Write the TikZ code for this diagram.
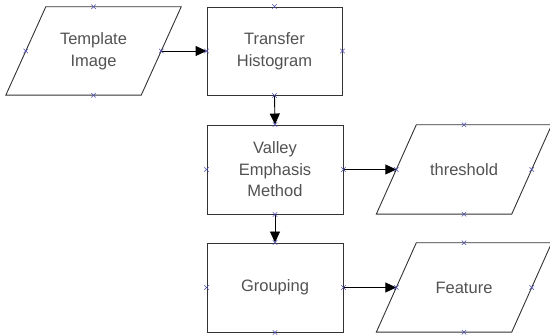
\documentclass[tikz,border=0pt]{standalone}
\usepackage{fontspec}
\setmainfont{Liberation Sans}
\usetikzlibrary{arrows.meta}
\begin{document}
\begin{tikzpicture}[x=1pt,y=-1pt,
  box/.style={draw=black!80, line width=0.9pt, minimum width=135pt, minimum height=88pt, inner sep=0pt, align=center, font=\fontsize{16.5}{21.5}\selectfont, text=black!68},
  para/.style={minimum width=135pt, minimum height=88pt, inner sep=0pt, align=center, font=\fontsize{16.5}{21.5}\selectfont, text=black!68},
  pline/.style={draw=black!80, line width=0.9pt},
  conn/.style={draw=black, line width=0.9pt, -{Triangle[length=11pt,width=10pt]}},
  mk/.style={draw=blue!55!black!70, line width=0.6pt}
]
\useasboundingbox (0,0) rectangle (550,336);
\fill[white] (0,0) rectangle (550,336);

\node[para] (tmpl) at (93.5,51) {Template\\Image};
\node[box] (trans) at (274.5,51) {Transfer\\Histogram};
\node[box, minimum width=136pt, minimum height=89pt] (valley) at (275,169.5) {Valley\\Emphasis\\Method};
\node[para, minimum height=89pt] (thr) at (464,169.5) {threshold};
\node[box, minimum width=136pt, minimum height=89pt] (group) at (275,287.5) {Grouping};
\node[para, minimum height=89pt] (feat) at (464,287.5) {Feature};

\foreach \n in {tmpl,thr,feat}{
  \draw[pline] ([xshift=20pt]\n.north west) -- ([xshift=20pt]\n.north east)
    -- ([xshift=-20pt]\n.south east) -- ([xshift=-20pt]\n.south west) -- cycle;
}

\draw[conn] (tmpl.east) -- (trans.west);
\draw[conn] (trans.south) -- (valley.north);
\draw[conn] (valley.east) -- (thr.west);
\draw[conn] (valley.south) -- (group.north);
\draw[conn] (group.east) -- (feat.west);

\foreach \n in {tmpl,trans,valley,thr,group,feat}{
  \foreach \a in {north,south,east,west}{
    \draw[mk] ([shift={(-2.2pt,-2.2pt)}]\n.\a) -- ([shift={(2.2pt,2.2pt)}]\n.\a);
    \draw[mk] ([shift={(-2.2pt,2.2pt)}]\n.\a) -- ([shift={(2.2pt,-2.2pt)}]\n.\a);
  }
}
\end{tikzpicture}
\end{document}
